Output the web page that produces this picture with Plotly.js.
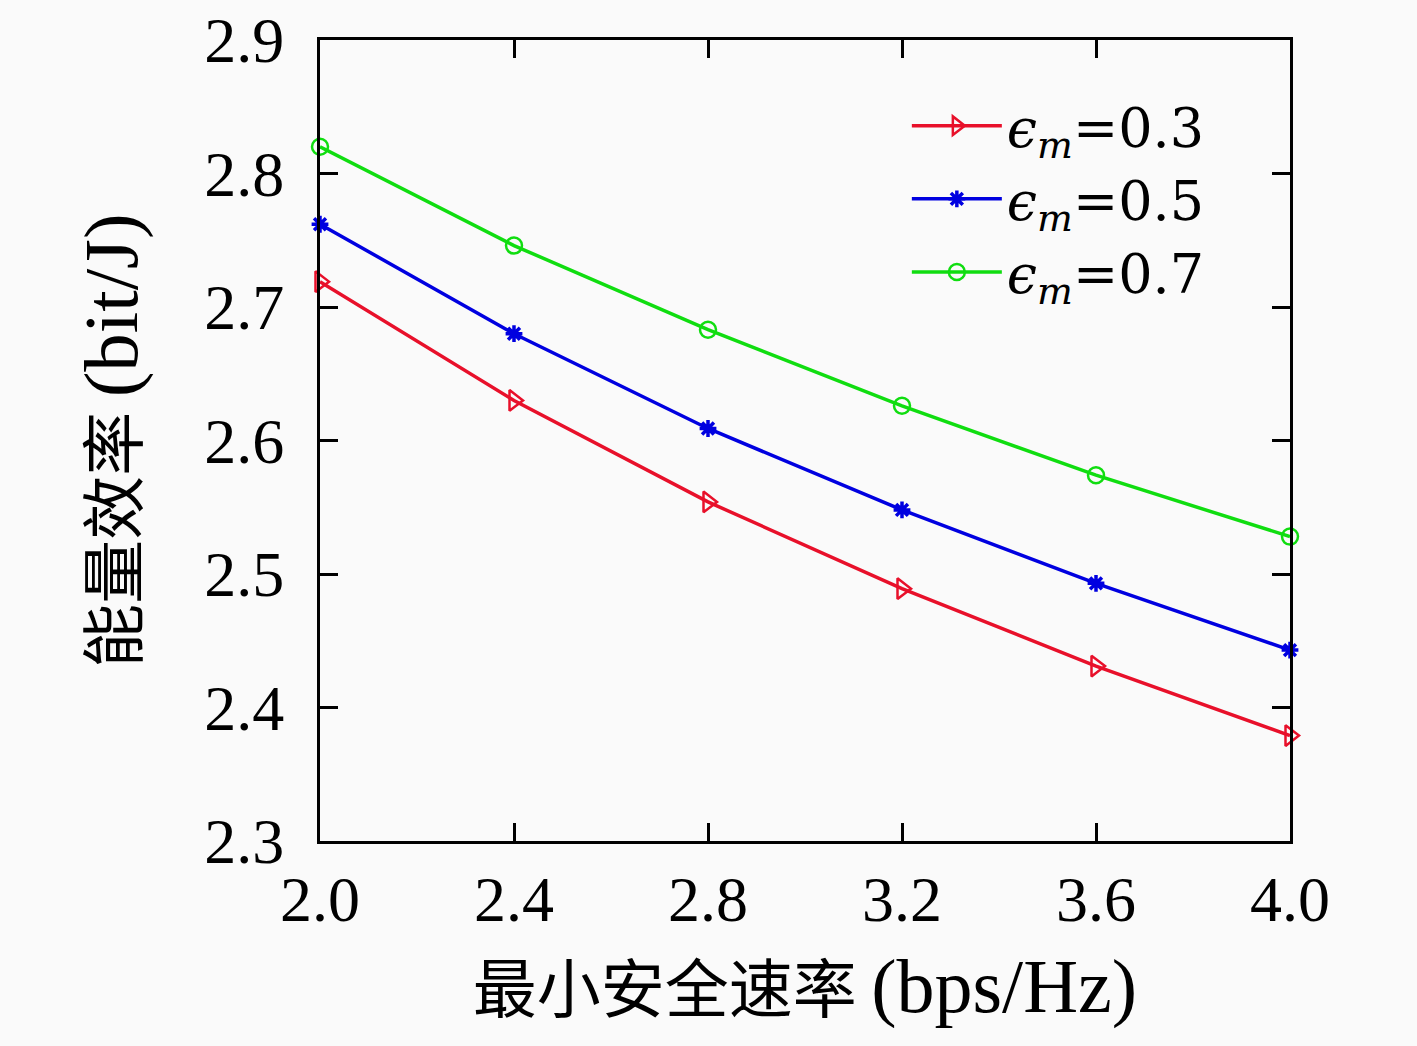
<!DOCTYPE html>
<html>
<head>
<meta charset="utf-8">
<script src="https://cdn.plot.ly/plotly-3.0.1.min.js"></script>
<style>html,body{margin:0;padding:0;background:#fafafa;}</style>
</head>
<body>
<div id="chart" style="width:1417px;height:1046px;"></div>
<script>
var xRates = [2.0, 2.4, 2.8, 3.2, 3.6, 4.0];
var ee03 = [2.719, 2.630, 2.554, 2.489, 2.431, 2.379];
var ee05 = [2.762, 2.680, 2.609, 2.548, 2.493, 2.443];
var ee07 = [2.820, 2.746, 2.683, 2.626, 2.574, 2.528];
var seriesNames = ['<i>ϵ</i><sub><i>m</i></sub>=0.3', '<i>ϵ</i><sub><i>m</i></sub>=0.5', '<i>ϵ</i><sub><i>m</i></sub>=0.7'];
var xTicks = [2.0, 2.4, 2.8, 3.2, 3.6, 4.0];
var xTickText = ['2.0', '2.4', '2.8', '3.2', '3.6', '4.0'];
var yTicks = [2.3, 2.4, 2.5, 2.6, 2.7, 2.8, 2.9];
var yTickText = ['2.3', '2.4', '2.5', '2.6', '2.7', '2.8', '2.9'];

var serif = '"Liberation Serif", "DejaVu Serif", serif';
var legSerif = '"DejaVu Serif", "Liberation Serif", serif';
var cjk = '"Noto Sans CJK SC", "Liberation Serif", serif';

var traces = [
  {x: xRates, y: ee03, name: seriesNames[0], mode: 'lines+markers', cliponaxis: false,
   line: {color: '#e8102a', width: 3.5},
   marker: {symbol: 'triangle-right-open', size: 18, color: '#e8102a', line: {width: 2.5, color: '#e8102a'}}},
  {x: xRates, y: ee05, name: seriesNames[1], mode: 'lines+markers', cliponaxis: false,
   line: {color: '#0000e0', width: 3.5},
   marker: {symbol: 'asterisk-open', size: 14, color: '#0000e0', line: {width: 3.5, color: '#0000e0'}}},
  {x: xRates, y: ee07, name: seriesNames[2], mode: 'lines+markers', cliponaxis: false,
   line: {color: '#10dd10', width: 3.5},
   marker: {symbol: 'circle-open', size: 16, color: '#10dd10', line: {width: 2.5, color: '#10dd10'}}}
];

var layout = {
  width: 1417, height: 1046,
  paper_bgcolor: '#fafafa', plot_bgcolor: '#fafafa',
  margin: {l: 320, r: 127, t: 40, b: 205},
  showlegend: true,
  legend: {x: 0.605, y: 0.945, xanchor: 'left', yanchor: 'top', bgcolor: 'rgba(0,0,0,0)',
           font: {family: legSerif, size: 54, color: '#000'}, tracegroupgap: 0, itemwidth: 90},
  xaxis: {range: [2.0, 4.0], tickvals: xTicks, ticktext: xTickText,
          ticks: 'inside', ticklen: 18, tickwidth: 3, tickcolor: '#000',
          showline: true, linecolor: '#000', linewidth: 3, mirror: 'ticks',
          showgrid: false, zeroline: false,
          tickfont: {family: serif, size: 64, color: '#000'},
          title: {text: '最小安全速率 <span style="font-family:Liberation Serif;font-size:76px">(bps/Hz)</span>', font: {family: cjk, size: 64, color: '#000'}, standoff: 34}},
  yaxis: {range: [2.3, 2.9], tickvals: yTicks, ticktext: yTickText,
          ticks: 'inside', ticklen: 18, tickwidth: 3, tickcolor: '#000',
          showline: true, linecolor: '#000', linewidth: 3, mirror: 'ticks',
          showgrid: false, zeroline: false, ticklabelstandoff: 20,
          tickfont: {family: serif, size: 64, color: '#000'},
          title: {text: '能量效率 <span style="font-family:Liberation Serif;font-size:77px">(bit/J)</span>', font: {family: cjk, size: 64, color: '#000'}, standoff: 46}}
};

Plotly.newPlot('chart', traces, layout, {displayModeBar: false, staticPlot: true});
</script>
</body>
</html>
